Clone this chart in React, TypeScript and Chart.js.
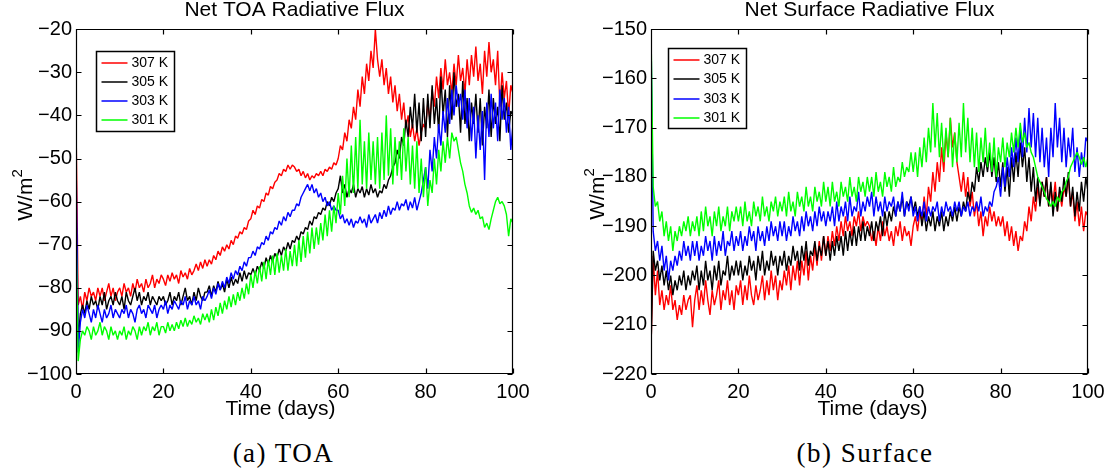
import React, { useEffect, useRef } from 'react';
import { Chart, registerables } from 'chart.js';

Chart.register(...registerables);

const FONT = "'Liberation Sans', Arial, Helvetica, sans-serif";

// Sampling interval of every series (days). Each series starts at day 0.
const STEP_DAYS = 0.5;
const SERIES_LABELS = ['307 K', '305 K', '303 K', '301 K'];
const SERIES_COLORS = ['#ff0000', '#000000', '#0000ff', '#00ff00'];
const X_TICK_STEP = 20;
const Y_TICK_STEP = 10;
const TOA_RANGE = [-100, -20];
const SFC_RANGE = [-220, -150];

// ---------- Net TOA radiative flux (W/m2) ----------
const toa307 = [
  -41, -84, -82, -85, -81, -83, -80, -82, -81, -83, -80, -82, -80, -83, -81, -79, -82, -80, -83, -81,
  -80, -82, -79, -81, -80, -82, -79, -81, -78, -80, -79, -81, -78, -80, -79, -77, -80, -78, -79, -77,
  -78, -79.5, -77, -78.5, -76.5, -78, -77, -79, -76, -77.5, -76.5, -78, -75.5, -77, -76, -74.5, -76, -74, -75.5, -73.5,
  -75, -73.5, -74.5, -72.5, -73.5, -71.5, -72.5, -70.5, -71.5, -70, -71, -69, -70, -68, -68.5, -67, -67.5, -66, -66.5, -64.5,
  -64, -62, -63, -61, -61.5, -59.5, -60, -58, -58.5, -56.5, -57, -55.5, -55, -53.5, -54, -52.5, -53, -51.5, -52.5, -51.5,
  -52, -53, -52.5, -54, -53, -54.5, -53.5, -55, -54, -54.5, -53.5, -54, -53, -54, -52.5, -53, -52, -52.5, -51, -51.5,
  -50, -47, -48, -44, -46, -41, -43, -38, -41, -34, -38, -31, -35, -28, -32, -25, -29, -20, -27, -31,
  -27, -33, -29, -35, -31, -37, -33, -39, -35, -41, -37, -43, -40, -45, -42, -46, -43, -47, -44, -42,
  -43, -37, -41, -34, -38, -31, -36, -29, -34, -27, -33, -30, -35, -28, -33, -26, -32, -29, -35, -27,
  -33, -26, -31, -24, -32, -28, -35, -25, -31, -23, -30, -27, -33, -25, -38, -30, -36, -32, -40, -33,
  -35,
];
const toa305 = [
  -60, -92, -86, -84, -86, -83, -85, -82, -84, -83, -85, -82, -84, -81, -85, -83, -82, -84, -81, -83,
  -84, -82, -85, -81, -83, -84, -82, -80, -83, -81, -84, -82, -83, -81, -84, -82, -83, -84, -82, -83,
  -82, -84, -83, -81, -84, -82, -83, -81, -84, -82, -80, -83, -82, -84, -81, -83, -80, -82, -83, -81,
  -81, -79.5, -82, -79.5, -81, -78.5, -80.5, -79, -81, -78, -80, -77.5, -79.5, -78, -79, -76.5, -78.5, -76, -78, -76.5,
  -77, -75.5, -77, -75, -76, -74, -75.5, -73, -74.5, -72.5, -74, -72, -73, -71, -72.5, -70.5, -71.5, -69.5, -71, -69,
  -69.5, -68, -69, -67, -67.5, -66, -66.5, -64.5, -65.5, -63.5, -64, -62.5, -63, -61.5, -62, -60, -61, -59, -60, -58,
  -57, -54, -58, -56, -59, -57, -58, -56, -59, -57, -58, -56.5, -59, -57, -58.5, -56, -58, -57, -59, -57.5,
  -58, -56, -57, -55, -54, -52, -51, -48, -50, -45, -47, -41, -45, -38, -43, -35, -44, -37, -46, -36,
  -45, -35, -43, -33, -42, -36, -44, -31, -40, -34, -45, -33, -41, -30, -38, -35, -44, -32, -42, -36,
  -46, -37, -42, -35, -44, -36, -47, -38, -43, -34, -45, -36, -42, -38, -46, -33, -41, -37, -44, -39,
  -40,
];
const toa303 = [
  -48, -95, -88, -85, -87, -84, -86, -88, -85, -87, -84, -86, -88, -85, -87, -86, -84, -87, -85, -86,
  -87, -85, -86, -84, -87, -85, -86, -88, -85, -84, -86, -85, -87, -84, -85, -86, -84, -87, -85, -84,
  -85, -83, -86, -84, -85, -83, -84, -85, -83, -84, -82, -85, -83, -84, -82, -84, -83, -85, -82, -83,
  -82, -80.5, -82.5, -80, -81.5, -79, -80.5, -78.5, -80, -77.5, -79, -76.5, -78, -76, -77, -75, -76, -74, -75, -73,
  -73, -71.5, -72.5, -70.5, -71, -69.5, -70, -68, -69, -67, -67.5, -66, -66.5, -64.5, -65.5, -63.5, -64.5, -62.5, -63.5, -62,
  -62, -60.5, -61, -59, -58, -57, -56, -57.5, -56, -58, -57, -59, -58, -60, -59, -61, -60, -62, -61, -62,
  -62, -64, -63, -65, -64, -65.5, -64, -66, -64.5, -65, -63.5, -65, -64, -66, -63, -65, -64, -63, -65, -62.5,
  -64, -62, -63.5, -61, -63, -61.5, -62, -60, -62, -60.5, -61, -59.5, -62, -60, -61.5, -59, -62, -60, -58, -55,
  -52, -57, -48, -53, -45, -50, -42, -47, -39, -44, -36, -42, -34, -40, -33, -38, -35, -41, -34, -43,
  -36, -46, -38, -50, -40, -48, -39, -55, -37, -45, -35, -43, -37, -46, -34, -41, -36, -44, -38, -48,
  -42,
];
const toa301 = [
  -66, -97, -92, -90, -91, -89, -90, -92, -89, -91, -90, -88, -91, -89, -90, -92, -89, -91, -90, -92,
  -90, -91, -89, -92, -90, -91, -89, -90, -92, -89, -91, -89, -90, -88, -91, -89, -90, -88, -91, -89,
  -89, -90.5, -88, -90, -88.5, -90, -88, -89.5, -87.5, -89, -87, -89, -87.5, -88.5, -86.5, -88, -87, -88.5, -86, -87.5,
  -86, -88, -85, -87.5, -84.5, -86.5, -83.5, -86, -83, -85, -82, -84.5, -81.5, -84, -81, -83, -80, -82.5, -79, -81.5,
  -77, -80, -76, -79, -75, -78.5, -74, -78, -73.5, -77, -72.5, -77, -72, -76.5, -72.5, -76, -71, -76, -71.5, -75,
  -70, -75, -69, -74, -68, -73, -67, -72, -66, -71, -66, -70, -65, -69, -63, -68, -62, -67, -61, -65,
  -58, -63, -54, -61, -50, -59, -47, -58, -45, -57, -41, -56, -46, -57, -44, -55, -46, -56, -45, -57,
  -44, -55, -40, -54, -43, -56, -45, -54, -46, -55, -43, -53, -45, -56, -47, -57, -46, -58, -50, -59,
  -52, -61, -55, -58, -50, -56, -48, -53, -46, -51, -45, -50, -44, -46, -45, -48, -51, -53, -56, -58,
  -61, -62.5, -61.5, -63, -62, -64, -63.5, -66, -65, -66.5, -64, -62, -60, -59, -60.5, -60, -61, -63, -68, -64,
  -65,
];

// ---------- Net surface radiative flux (W/m2) ----------
const sfc307 = [
  -215, -196, -204, -199, -206, -203, -207, -204, -206, -202, -207, -205, -209, -206, -208, -204, -207, -205, -204, -210.5,
  -205, -202, -207, -203, -206, -201, -205, -208, -203, -206, -204, -201, -207, -203, -205, -201, -206, -203, -207, -202,
  -204, -201, -206, -202, -205, -200, -204, -206, -202, -205, -203, -200, -205, -201, -204, -199, -203, -200, -205, -201,
  -203, -199, -202, -198, -203, -198, -201, -197, -202, -197, -200, -195, -201, -196, -199, -194, -198, -193, -197, -192,
  -196, -192, -195, -191, -194, -190, -193, -189, -192, -188, -191, -189, -192, -188, -190, -187, -191, -188, -190, -189,
  -190, -193, -191, -194, -190, -193, -189, -192, -190, -193, -191, -194, -190, -192, -189, -193, -190, -192, -191, -194,
  -190, -188, -191, -187, -189, -184, -188, -182, -185, -179, -183, -177, -181, -174, -179, -171, -176, -168, -174, -171,
  -177, -180, -183, -179, -184, -180, -186, -183, -188, -185, -190, -187, -192, -188, -190, -186, -189, -187, -190, -188,
  -190, -188, -192, -189, -193, -190, -194, -191, -195, -192, -193, -189, -191, -186, -189, -184, -187, -182, -185, -181,
  -184, -180, -186, -182, -185, -181, -187, -183, -186, -182, -184, -180, -186, -183, -189, -185, -190, -186, -191, -187,
  -188,
];
const sfc305 = [
  -215, -195, -199, -197, -201, -198, -202, -199, -203, -200, -204, -201, -203, -200, -202, -199, -203, -200, -202, -199,
  -201, -198, -203, -199, -202, -197, -201, -199, -203, -198, -201, -197, -202, -199, -200, -196, -201, -198, -200, -197,
  -200, -197, -201, -198, -200, -196, -199, -197, -201, -196, -199, -195, -200, -197, -199, -195, -198, -196, -200, -196,
  -198, -195, -199, -196, -198, -194, -197, -195, -199, -194, -197, -193, -198, -195, -196, -193, -197, -194, -196, -192,
  -196, -193, -197, -193, -196, -192, -195, -192, -196, -191, -195, -191, -194, -190, -194, -190, -193, -189, -193, -190,
  -192, -189, -193, -189, -191, -188, -192, -187, -190, -187, -189, -186, -188, -185, -187, -184, -188, -185, -186, -184,
  -187, -185, -188, -186, -190, -187, -191, -188, -190, -187, -191, -188, -190, -187, -191, -188, -190, -187, -189, -186,
  -189, -186, -188, -185, -187, -183, -185, -181, -183, -178, -181, -177, -180, -176, -179, -175, -180, -176, -181, -177,
  -182, -177, -183, -178, -184, -176, -181, -175, -180, -173, -178, -174, -181, -176, -183, -178, -185, -180, -186, -181,
  -184, -180, -186, -181, -188, -183, -187, -182, -185, -180, -184, -179, -186, -182, -188, -183, -187, -181, -185, -180,
  -183,
];
const sfc303 = [
  -150, -191, -195, -193, -197, -194, -199, -196, -201, -197, -199, -196, -198, -195, -197, -193, -196, -194, -197, -193,
  -196, -193, -197, -194, -196, -192, -195, -193, -197, -192, -196, -193, -195, -191, -196, -193, -194, -191, -195, -192,
  -194, -191, -195, -192, -194, -190, -193, -191, -195, -190, -193, -191, -194, -190, -193, -189, -192, -190, -193, -189,
  -192, -189, -193, -190, -192, -188, -191, -189, -192, -188, -191, -187, -190, -188, -191, -187, -190, -186, -189, -187,
  -190, -187, -189, -186, -190, -185, -189, -186, -188, -185, -189, -184, -188, -186, -187, -183, -188, -185, -187, -184,
  -186, -183, -188, -184, -187, -185, -188, -184, -187, -185, -186, -184, -188, -185, -187, -183, -188, -185, -187, -184,
  -188, -186, -189, -186, -188, -185, -189, -186, -188, -186, -187, -185, -189, -186, -188, -185, -187, -186, -188, -185,
  -187, -185, -188, -186, -187, -185, -188, -186, -187, -185, -187, -184, -188, -186, -187, -185, -186, -183, -182, -180,
  -184, -178, -182, -176, -180, -174, -178, -172, -177, -170, -176, -168, -175, -166, -174, -167, -176, -168, -177, -170,
  -178, -172, -180, -170, -176, -165, -174, -168, -177, -170, -178, -172, -176, -170, -179, -174, -180, -175, -178, -172,
  -173,
];
const sfc301 = [
  -150, -182, -186, -185, -189, -187, -192, -189, -193, -190, -195, -191, -193, -190, -192, -189, -191, -188, -192, -189,
  -191, -188, -192, -187, -191, -186, -190, -188, -192, -187, -190, -186, -191, -188, -190, -186, -191, -187, -189, -186,
  -189, -186, -190, -185, -189, -187, -190, -185, -188, -186, -189, -184, -188, -186, -189, -185, -187, -184, -188, -185,
  -187, -184, -188, -183, -187, -185, -188, -183, -186, -184, -187, -182, -186, -184, -187, -182, -185, -183, -186, -181,
  -185, -182, -186, -181, -185, -183, -186, -181, -184, -182, -185, -180, -184, -182, -185, -180, -183, -181, -184, -180,
  -183, -180, -184, -179, -183, -181, -184, -179, -182, -180, -183, -178, -182, -180, -181, -177, -180, -178, -179, -175,
  -179, -175, -180, -174, -178, -172, -177, -170, -175, -165, -174, -167, -176, -169, -177, -170, -176, -168, -178, -171,
  -177, -169, -176, -165, -175, -168, -177, -170, -178, -171, -179, -172, -177, -170, -178, -173, -179, -172, -180, -174,
  -177, -172, -178, -173, -176, -171, -175, -170, -174, -169, -173, -171, -174, -173, -175, -176, -178, -180, -181, -182,
  -183, -184.5, -185, -186, -185, -186, -184, -185, -183, -182.5, -181, -180, -178, -177, -176, -175, -176, -177.5, -176, -178,
  -176,
];

const toaSeries = [toa307, toa305, toa303, toa301];
const sfcSeries = [sfc307, sfc305, sfc303, sfc301];

function toPoints(values: number[]) {
  return values.map((v, i) => ({ x: i * STEP_DAYS, y: v }));
}

const framePlugin = {
  id: 'matlabFrame',
  afterDatasetsDraw(chart: any) {
    const { ctx, chartArea: a } = chart;
    const xs = chart.scales.x;
    const ys = chart.scales.y;
    const L = Math.round(a.left) + 0.5;
    const R = Math.round(a.right) - 0.5;
    const T = Math.round(a.top) + 0.5;
    const B = Math.round(a.bottom) - 0.5;
    const len = 5;
    ctx.save();
    ctx.strokeStyle = '#000';
    ctx.lineWidth = 1.2;
    ctx.beginPath();
    ctx.rect(L, T, R - L, B - T);
    xs.ticks.forEach((t: any) => {
      const px = Math.round(xs.getPixelForValue(t.value)) + 0.5;
      ctx.moveTo(px, B);
      ctx.lineTo(px, B - len);
      ctx.moveTo(px, T);
      ctx.lineTo(px, T + len);
    });
    ys.ticks.forEach((t: any) => {
      const py = Math.round(ys.getPixelForValue(t.value)) + 0.5;
      ctx.moveTo(L, py);
      ctx.lineTo(L + len, py);
      ctx.moveTo(R, py);
      ctx.lineTo(R - len, py);
    });
    ctx.stroke();
    ctx.restore();
  },
};

const decorPlugin = {
  id: 'decor',
  afterDraw(chart: any, _args: any, o: any) {
    const { ctx, chartArea: a } = chart;
    ctx.save();
    // legend box
    const x0 = Math.round(a.left + o.legendDx) + 0.5;
    const y0 = Math.round(a.top + o.legendDy) + 0.5;
    ctx.fillStyle = '#fff';
    ctx.fillRect(x0, y0, o.legendW, o.legendH);
    ctx.lineWidth = 1.5;
    ctx.strokeStyle = '#000';
    ctx.strokeRect(x0, y0, o.legendW, o.legendH);
    ctx.font = '14px ' + FONT;
    ctx.textBaseline = 'middle';
    ctx.textAlign = 'left';
    chart.data.datasets.forEach((ds: any, i: number) => {
      const yy = Math.round(y0 + o.rowFirst + i * o.rowGap);
      ctx.strokeStyle = SERIES_COLORS[i];
      ctx.lineWidth = 1.5;
      ctx.beginPath();
      ctx.moveTo(x0 + 5, yy);
      ctx.lineTo(x0 + 31, yy);
      ctx.stroke();
      ctx.fillStyle = '#000';
      ctx.fillText(ds.label, x0 + 35, yy);
    });
    // x label
    ctx.fillStyle = '#000';
    ctx.font = '21px ' + FONT;
    ctx.textAlign = 'center';
    ctx.textBaseline = 'alphabetic';
    ctx.fillText(o.xLabel, o.xLabelX, o.xLabelBaseline);
    // y label with superscript
    ctx.translate(o.yLabelX, o.yLabelY);
    ctx.rotate(-Math.PI / 2);
    ctx.font = '21px ' + FONT;
    const w1 = ctx.measureText(o.yLabelMain).width;
    ctx.font = '15px ' + FONT;
    const w2 = ctx.measureText(o.yLabelSup).width;
    const start = -(w1 + w2) / 2;
    ctx.textAlign = 'left';
    ctx.font = '21px ' + FONT;
    ctx.fillText(o.yLabelMain, start, 0);
    ctx.font = '15px ' + FONT;
    ctx.fillText(o.yLabelSup, start + w1, -10);
    ctx.restore();
  },
};

function makeConfig(p: any) {
  return {
    type: 'line',
    data: {
      datasets: p.series.map((vals: number[], i: number) => ({
        label: SERIES_LABELS[i],
        data: toPoints(vals),
        borderColor: SERIES_COLORS[i],
        backgroundColor: SERIES_COLORS[i],
        borderWidth: 1.4,
        pointRadius: 0,
        tension: 0,
        fill: false,
        borderJoinStyle: 'bevel',
        order: 3 - i,
      })),
    },
    options: {
      responsive: false,
      animation: false,
      devicePixelRatio: 1,
      layout: { padding: { left: 0, right: p.padRight, top: 0, bottom: 0 } },
      plugins: {
        legend: { display: false },
        tooltip: { enabled: false },
        title: {
          display: true,
          text: p.title,
          fullSize: false,
          color: '#000',
          font: { family: FONT, size: 21, weight: 'normal' },
          padding: { top: 0, bottom: 6 },
        },
        decor: p.decor,
      },
      scales: {
        x: {
          type: 'linear',
          min: 0,
          max: 100,
          grid: { display: false, drawTicks: false, tickLength: 0 },
          border: { display: false },
          ticks: {
            stepSize: X_TICK_STEP,
            padding: 6,
            color: '#000',
            maxRotation: 0,
            font: { family: FONT, size: 20 },
          },
          afterFit: (s: any) => {
            s.height = 46;
          },
        },
        y: {
          type: 'linear',
          min: p.yRange[0],
          max: p.yRange[1],
          grid: { display: false, drawTicks: false, tickLength: 0 },
          border: { display: false },
          ticks: {
            stepSize: Y_TICK_STEP,
            padding: 4,
            color: '#000',
            font: { family: FONT, size: 20 },
            callback: (v: number) => (v < 0 ? '\u2212' + Math.abs(v) : String(v)),
          },
          afterFit: (s: any) => {
            s.width = p.yAxisWidth;
          },
        },
      },
    },
    plugins: [framePlugin, decorPlugin],
  };
}

function FluxChart({ config, left, width, height }: any) {
  const ref = useRef<HTMLCanvasElement | null>(null);
  useEffect(() => {
    const chart = new Chart(ref.current as HTMLCanvasElement, config);
    return () => chart.destroy();
  }, []);
  return (
    <canvas
      ref={ref}
      width={width}
      height={height}
      style={{ position: 'absolute', left, top: -2, width, height }}
    />
  );
}

const toaConfig = makeConfig({
  series: toaSeries,
  title: 'Net TOA Radiative Flux',
  yRange: TOA_RANGE,
  yAxisWidth: 76,
  padRight: 44,
  decor: {
    legendDx: 20, legendDy: 21.5, legendW: 78, legendH: 80, rowFirst: 11, rowGap: 19.2,
    xLabel: 'Time (days)', xLabelX: 280.5, xLabelBaseline: 417,
    yLabelMain: 'W/m', yLabelSup: '2', yLabelX: 32, yLabelY: 197,
  },
});

const sfcConfig = makeConfig({
  series: sfcSeries,
  title: 'Net Surface Radiative Flux',
  yRange: SFC_RANGE,
  yAxisWidth: 91,
  padRight: 26,
  decor: {
    legendDx: 17, legendDy: 19, legendW: 78, legendH: 80, rowFirst: 11.7, rowGap: 19.2,
    xLabel: 'Time (days)', xLabelX: 312.5, xLabelBaseline: 417,
    yLabelMain: 'W/m', yLabelSup: '2', yLabelX: 44, yLabelY: 196,
  },
});

const captionStyle: any = {
  position: 'absolute',
  top: 440,
  width: 300,
  textAlign: 'center',
  fontFamily: "'Liberation Serif', 'Times New Roman', serif",
  fontSize: 27,
  lineHeight: '27px',
  letterSpacing: '1.5px',
  color: '#000',
  whiteSpace: 'nowrap',
};

export default function App() {
  return (
    <div
      style={{
        position: 'absolute',
        left: 0,
        top: 0,
        width: 1114,
        height: 473,
        overflow: 'hidden',
        background: '#fff',
      }}
    >
      <FluxChart config={toaConfig} left={0} width={557} height={422} />
      <FluxChart config={sfcConfig} left={560} width={554} height={422} />
      <div style={{ ...captionStyle, left: 283.5 - 150 }}>(a) TOA</div>
      <div style={{ ...captionStyle, left: 865 - 150 }}>(b) Surface</div>
    </div>
  );
}
